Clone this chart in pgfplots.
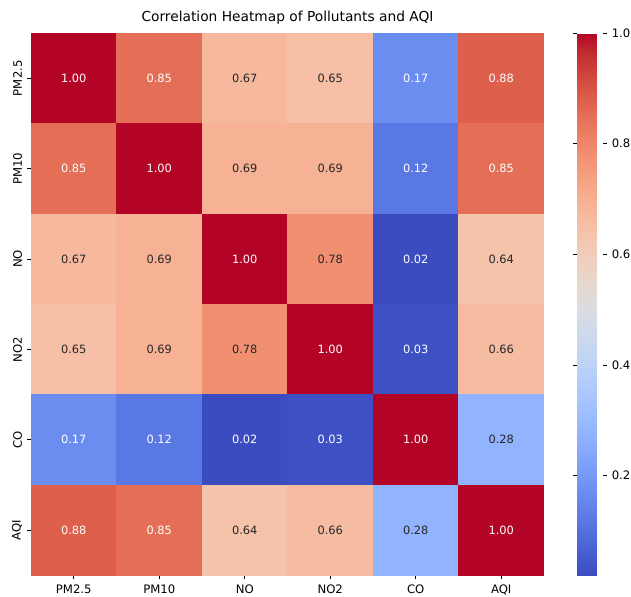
\documentclass[border=0pt]{standalone}
\usepackage{pgfplots}
\pgfplotsset{compat=1.18}
\usepackage{pgfplotstable}
\usepackage{fontspec}
\setmainfont{DejaVu Sans}
\definecolor{dark}{rgb}{0.15,0.15,0.15}
\pgfplotstableread{
x y c w
0 0 1.00 1
1 0 0.85 1
2 0 0.67 0
3 0 0.65 0
4 0 0.17 1
5 0 0.88 1
0 1 0.85 1
1 1 1.00 1
2 1 0.69 0
3 1 0.69 0
4 1 0.12 1
5 1 0.85 1
0 2 0.67 0
1 2 0.69 0
2 2 1.00 1
3 2 0.78 0
4 2 0.02 1
5 2 0.64 0
0 3 0.65 0
1 3 0.69 0
2 3 0.78 0
3 3 1.00 1
4 3 0.03 1
5 3 0.66 0
0 4 0.17 1
1 4 0.12 1
2 4 0.02 1
3 4 0.03 1
4 4 1.00 1
5 4 0.28 0
0 5 0.88 1
1 5 0.85 1
2 5 0.64 0
3 5 0.66 0
4 5 0.28 0
5 5 1.00 1
}\corr
\pgfplotsset{
  colormap={coolwarm}{
    rgb=(0.2298,0.2987,0.7537)
    rgb=(0.2662,0.3531,0.8015)
    rgb=(0.3039,0.4065,0.8450)
    rgb=(0.3428,0.4588,0.8837)
    rgb=(0.3830,0.5094,0.9174)
    rgb=(0.4244,0.5581,0.9456)
    rgb=(0.4667,0.6046,0.9682)
    rgb=(0.5096,0.6483,0.9848)
    rgb=(0.5530,0.6889,0.9954)
    rgb=(0.5963,0.7261,0.9998)
    rgb=(0.6392,0.7596,0.9982)
    rgb=(0.6813,0.7890,0.9904)
    rgb=(0.7222,0.8140,0.9766)
    rgb=(0.7615,0.8343,0.9569)
    rgb=(0.7987,0.8498,0.9317)
    rgb=(0.8335,0.8602,0.9011)
    rgb=(0.8654,0.8654,0.8654)
    rgb=(0.8978,0.8489,0.8209)
    rgb=(0.9241,0.8274,0.7745)
    rgb=(0.9445,0.8009,0.7276)
    rgb=(0.9589,0.7698,0.6780)
    rgb=(0.9673,0.7341,0.6288)
    rgb=(0.9700,0.6943,0.5794)
    rgb=(0.9668,0.6504,0.5303)
    rgb=(0.9580,0.6028,0.4818)
    rgb=(0.9437,0.5518,0.4342)
    rgb=(0.9239,0.4973,0.3880)
    rgb=(0.8990,0.4396,0.3432)
    rgb=(0.8692,0.3783,0.3003)
    rgb=(0.8346,0.3129,0.2593)
    rgb=(0.7956,0.2413,0.2205)
    rgb=(0.7525,0.1572,0.1841)
    rgb=(0.7057,0.0156,0.1502)
  }
}
\begin{document}
\begin{tikzpicture}
\begin{axis}[
  name=ax,
  scale only axis,
  width=369pt, height=390pt,
  xmin=-0.5, xmax=5.5, ymin=-0.5, ymax=5.5,
  y dir=reverse,
  axis line style={draw=none},
  xtick={0,...,5}, ytick={0,...,5},
  xticklabels={PM2.5,PM10,NO,NO2,CO,AQI},
  yticklabels={PM2.5,PM10,NO,NO2,CO,AQI},
  xtick pos=bottom, ytick pos=left,
  tick align=outside,
  major tick length=2.9pt,
  tick style={black, line width=0.5pt},
  ticklabel style={font=\fontsize{8.4}{10}\selectfont},
  xticklabel style={yshift=-0.5pt},
  yticklabel style={rotate=90, anchor=south},
  colormap name=coolwarm,
  point meta min=0.02, point meta max=1,
  colorbar,
  colorbar style={
    at={(parent axis.north east)}, anchor=north west, xshift=15.3pt,
    scale only axis,
    width=18.5pt,
    axis line style={draw=none},
    ytick={0.2,0.4,0.6,0.8,1.0},
    yticklabel style={font=\fontsize{8.4}{10}\selectfont,
      /pgf/number format/fixed, /pgf/number format/fixed zerofill,
      /pgf/number format/precision=1, /pgf/number format/assume math mode=true},
    tick align=outside,
    major tick length=2.9pt,
    tick style={black, line width=0.5pt},
  },
  title={Correlation Heatmap of Pollutants and AQI},
  title style={font=\fontsize{9.9}{12}\selectfont, yshift=-3.5pt},
  nodes near coords style={anchor=center, font=\fontsize{8.2}{10}\selectfont,
    /pgf/number format/fixed, /pgf/number format/fixed zerofill,
    /pgf/number format/precision=2, /pgf/number format/assume math mode=true},
]
\addplot[matrix plot*, mesh/cols=6, mesh/ordering=x varies, point meta=explicit]
  table[x=x, y=y, meta=c] {\corr};
\addplot[only marks, mark=none, nodes near coords, point meta=\thisrow{c},
  restrict expr to domain={\thisrow{w}}{0.5:1.5},
  every node near coord/.append style={text=white}]
  table[x=x, y=y] {\corr};
\addplot[only marks, mark=none, nodes near coords, point meta=\thisrow{c},
  restrict expr to domain={\thisrow{w}}{-0.5:0.5},
  every node near coord/.append style={text=dark}]
  table[x=x, y=y] {\corr};
\end{axis}
\pgfresetboundingbox
\path ([shift={(-22.3pt,-15.1pt)}]ax.south west) rectangle ([shift={(62.6pt,23.8pt)}]ax.north east);
\end{tikzpicture}
\end{document}
